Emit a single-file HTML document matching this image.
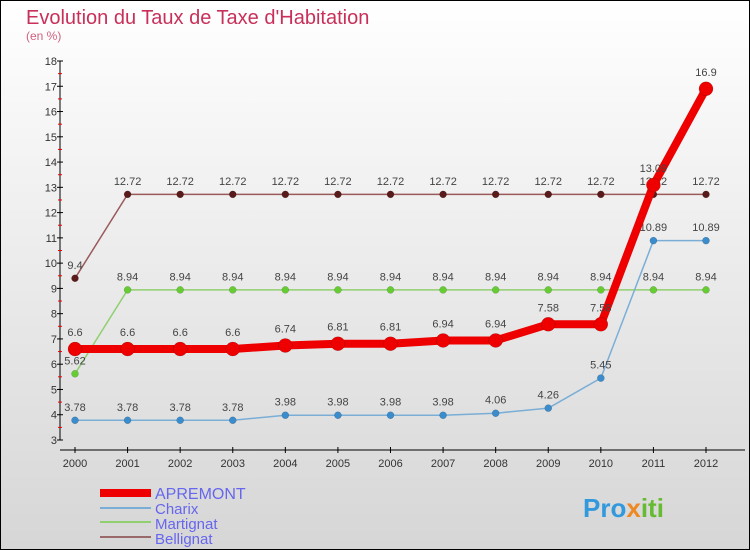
<!DOCTYPE html>
<html><head><meta charset="utf-8"><style>
body{margin:0}
#c{width:750px;height:550px;position:relative;overflow:hidden}
</style></head><body>
<div id="c">
<svg id="s" width="750" height="550" font-family="'Liberation Sans', sans-serif">
<defs><linearGradient id="bg" x1="0" y1="0" x2="0" y2="1"><stop offset="0" stop-color="#ffffff"/><stop offset="1" stop-color="#d6d6d6"/></linearGradient></defs>
<rect x="0.5" y="0.5" width="749" height="549" fill="url(#bg)" stroke="#000"/>
<text x="26" y="24" font-size="20" fill="#c8305a">Evolution du Taux de Taxe d'Habitation</text>
<text x="26" y="40" font-size="12" fill="#d06080">(en %)</text>
<g id="axes"></g><g id="series"></g>
<g>
<line x1="100" y1="493" x2="151" y2="493" stroke="#e00" stroke-width="8"/>
<text x="155" y="499" font-size="16" fill="#6666ee">APREMONT</text>
<line x1="100" y1="508" x2="151" y2="508" stroke="#7aaed6" stroke-width="2"/>
<text x="155" y="514" font-size="15" fill="#6666ee">Charix</text>
<line x1="100" y1="522" x2="151" y2="522" stroke="#90d070" stroke-width="2"/>
<text x="155" y="529" font-size="15" fill="#6666ee">Martignat</text>
<line x1="100" y1="537" x2="151" y2="537" stroke="#9a6a6a" stroke-width="2"/>
<text x="155" y="544" font-size="15" fill="#6666ee">Bellignat</text>
</g>
<text x="583" y="517" font-size="26" font-weight="bold" fill="#3399dd">Pro<tspan fill="#ee8822">x</tspan><tspan fill="#66bb33">iti</tspan></text>
</svg>
</div>
<script>
const years=[2000,2001,2002,2003,2004,2005,2006,2007,2008,2009,2010,2011,2012];
const yTicks=[3,4,5,6,7,8,9,10,11,12,13,14,15,16,17,18];
const apremont=[6.6,6.6,6.6,6.6,6.74,6.81,6.81,6.94,6.94,7.58,7.58,13.09,16.9];
const charix=[3.78,3.78,3.78,3.78,3.98,3.98,3.98,3.98,4.06,4.26,5.45,10.89,10.89];
const martignat=[5.62,8.94,8.94,8.94,8.94,8.94,8.94,8.94,8.94,8.94,8.94,8.94,8.94];
const bellignat=[9.4,12.72,12.72,12.72,12.72,12.72,12.72,12.72,12.72,12.72,12.72,12.72,12.72];
const NS='http://www.w3.org/2000/svg';
const X=i=>75+i*(706-75)/(years.length-1);
const Y=v=>440-(v-3)*(440-61)/15;
function mk(p,t,a){const e=document.createElementNS(NS,t);for(const k in a)e.setAttribute(k,a[k]);p.appendChild(e);return e;}
const ax=document.getElementById('axes');
let yl=mk(ax,'line',{x1:60,y1:Y(18),x2:60,y2:Y(3),stroke:'#000'});


let xl=mk(ax,'line',{x1:60,y1:450,x2:745,y2:450,stroke:'#000'});


yTicks.forEach(v=>{
 mk(ax,'line',{x1:57,y1:Y(v),x2:63,y2:Y(v),stroke:'#000'});
 if(v<18)mk(ax,'line',{x1:58,y1:Y(v+0.5),x2:62,y2:Y(v+0.5),stroke:'#e00'});
 const t=mk(ax,'text',{x:57,y:Y(v)+4,'font-size':11,'text-anchor':'end',fill:'#333'});
 t.textContent=v;
 
 
});
years.forEach((y,i)=>{
 mk(ax,'line',{x1:X(i),y1:447,x2:X(i),y2:453,stroke:'#000'});
 const t=mk(ax,'text',{x:X(i),y:467,'font-size':11,'text-anchor':'middle',fill:'#333'});
 t.textContent=y;
 
 
});
const sg=document.getElementById('series');
function series(name,data,lc,lw,mc,r){
 const g=mk(sg,'g',{});
 
 
 mk(g,'polyline',{points:data.map((v,i)=>X(i)+','+Y(v)).join(' '),fill:'none',stroke:lc,'stroke-width':lw,'stroke-linejoin':'round'});
 data.forEach((v,i)=>{
  const c=mk(g,'circle',{cx:X(i),cy:Y(v),r:r,fill:mc,stroke:'rgba(0,0,0,0.25)','stroke-width':0.5});
  
  
  const t=mk(g,'text',{x:X(i),y:Y(v)-(r+6),'font-size':11,'text-anchor':'middle',fill:'#444'});
  t.textContent=v;
  
  
 });
}
series('bellignat',bellignat,'#9a5a5a',1.5,'#5a1a1a',3.5);
series('martignat',martignat,'#90d070',1.5,'#66cc33',3.5);
series('charix',charix,'#7aaed6',1.5,'#3a8ccc',3.5);
series('apremont',apremont,'#e00',8,'#e00',7);
</script>
</body></html>
